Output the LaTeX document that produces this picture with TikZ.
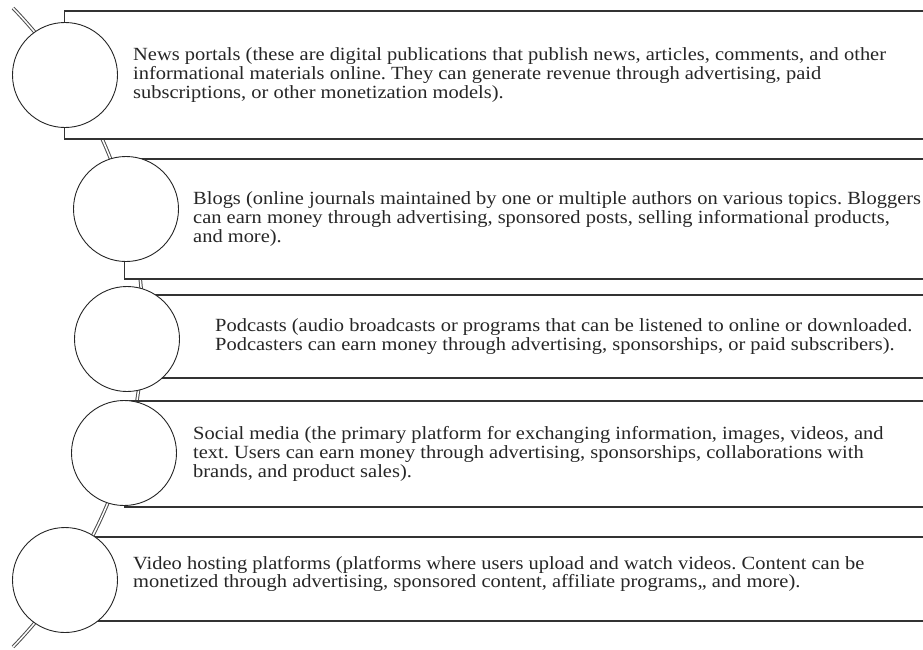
\documentclass[tikz,border=0pt]{standalone}
\usepackage{fontspec}
\setmainfont[FakeStretch=1.1]{Liberation Serif}
\frenchspacing
\usetikzlibrary{positioning}

\begin{document}
\begin{tikzpicture}[x=1pt,y=-1pt]
    \tikzstyle{ring}=[circle,draw=black!85,fill=white,line width=0.9pt,minimum size=105pt,inner sep=0pt]
    \tikzstyle{slab}=[rectangle,draw=black!80,fill=white,line width=1.4pt,anchor=west,minimum width=880pt,inner sep=0pt]
    \tikzstyle{blurb}=[align=left,inner sep=0pt,text=black!85,font=\fontsize{18.6}{18.8}\selectfont]
    \useasboundingbox (0,0) rectangle (923,649);
    \clip (0,0) rectangle (923,649);
    \coordinate (S_top) at (13,8);
    \coordinate (S_bot) at (13,647);
    \draw [double=white,double distance=1.5pt,line width=1pt,draw=black!70] (S_top) to[bend left=44] (S_bot);
    \node[slab,minimum height=128pt] (B_1) at (64,75) {};
    \node[slab,minimum height=120pt] (B_2) at (124,219) {};
    \node[slab,minimum height=83pt] (B_3) at (127,336.5) {};
    \node[slab,minimum height=106pt] (B_4) at (124,454) {};
    \node[slab,minimum height=84pt] (B_5) at (65,579) {};
    \node[ring] (C_1) at (65,75) {};
    \node[ring] (C_2) at (126,209) {};
    \node[ring] (C_3) at (127,339) {};
    \node[ring] (C_4) at (124,453) {};
    \node[ring] (C_5) at (65,580) {};
    \node[blurb,right=69pt of B_1.west] (T_1) {News portals (these are digital publications that publish news, articles, comments, and other\\informational materials online. They can generate revenue through advertising, paid\\subscriptions, or other monetization models).};
    \node[blurb,right=69pt of B_2.west] (T_2) {Blogs (online journals maintained by one or multiple authors on various topics. Bloggers\\can earn money through advertising, sponsored posts, selling informational products,\\and more).};
    \node[blurb,right=88pt of B_3.west] (T_3) {Podcasts (audio broadcasts or programs that can be listened to online or downloaded.\\Podcasters can earn money through advertising, sponsorships, or paid subscribers).};
    \node[blurb,right=69pt of B_4.west] (T_4) {Social media (the primary platform for exchanging information, images, videos, and\\text. Users can earn money through advertising, sponsorships, collaborations with\\brands, and product sales).};
    \node[blurb,right=68pt of B_5.west,yshift=5pt] (T_5) {Video hosting platforms (platforms where users upload and watch videos. Content can be\\monetized through advertising, sponsored content, affiliate programs,, and more).};
\end{tikzpicture}
\end{document}
